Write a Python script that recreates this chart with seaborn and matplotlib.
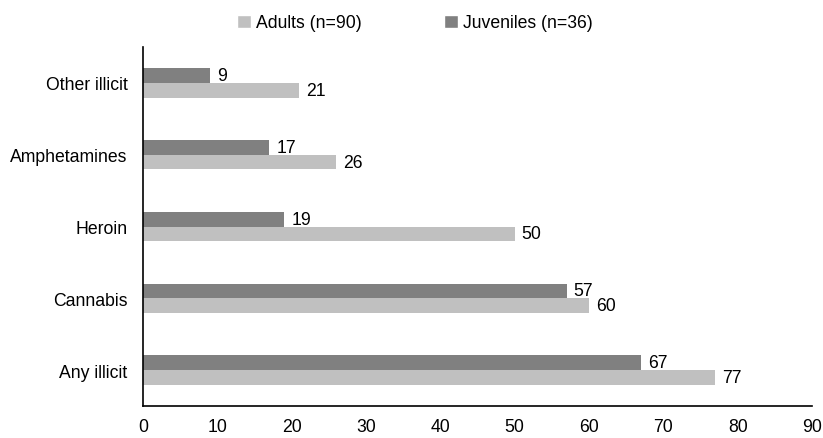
import matplotlib
matplotlib.use('Agg')
import matplotlib.pyplot as plt
import seaborn as sns
import pandas as pd
from matplotlib.patches import Patch

categories = ['Other illicit', 'Amphetamines', 'Heroin', 'Cannabis', 'Any illicit']
juveniles = [9, 17, 19, 57, 67]
adults = [21, 26, 50, 60, 77]
series_names = ['Juveniles (n=36)', 'Adults (n=90)']
colors = {'Juveniles (n=36)': '#808080', 'Adults (n=90)': '#C0C0C0'}

df = pd.DataFrame({
    'drug': categories * 2,
    'pct': juveniles + adults,
    'group': [series_names[0]] * len(categories) + [series_names[1]] * len(categories),
})

sns.set_style('white')
plt.rcParams['font.family'] = ['Liberation Sans', 'DejaVu Sans']
plt.rcParams['text.color'] = 'black'
fs = 12.7

fig = plt.figure(figsize=(8.23, 4.39), dpi=100)
ax = fig.add_axes([143 / 823, 1 - 407 / 439, 669 / 823, 359 / 439])

sns.barplot(data=df, y='drug', x='pct', hue='group', order=categories,
            hue_order=series_names, palette=colors, orient='h',
            width=0.41, gap=0, saturation=1, edgecolor='none', legend=False, ax=ax)

for cont in ax.containers:
    ax.bar_label(cont, padding=5, fontsize=fs, color='black')

ax.set_xlim(0, 90)
ax.set_xticks(range(0, 91, 10))
ax.set_ylim(len(categories) - 0.5, -0.5)
ax.set_xlabel('')
ax.set_ylabel('')
for s in ['top', 'right']:
    ax.spines[s].set_visible(False)
for s in ['left', 'bottom']:
    ax.spines[s].set_color('black')
    ax.spines[s].set_linewidth(1.2)
ax.tick_params(axis='x', direction='out', length=5, width=1.2, color='black',
               labelsize=fs, pad=4, labelcolor='black')
ax.tick_params(axis='y', length=0, labelsize=fs, pad=11, labelcolor='black')

handles = [Patch(facecolor=colors['Adults (n=90)'], label='Adults (n=90)'),
           Patch(facecolor=colors['Juveniles (n=36)'], label='Juveniles (n=36)')]
fig.legend(handles=handles, loc='center left', bbox_to_anchor=(237 / 823, 1 - 24 / 439),
           ncol=2, frameon=False, fontsize=fs, borderpad=0, borderaxespad=0,
           handlelength=0.8, handleheight=0.8, handletextpad=0.25, columnspacing=4.7,
           labelcolor='black')

fig.savefig('out.png', dpi=100)
